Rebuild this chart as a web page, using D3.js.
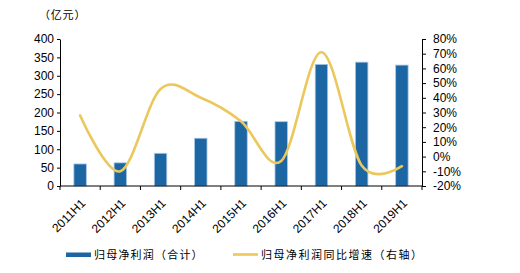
<!DOCTYPE html>
<html>
<head>
<meta charset="utf-8">
<script src="https://cdn.jsdelivr.net/npm/d3@7"></script>
<style>
  body { margin: 0; background: #fff; }
  svg { display: block; }
  .num { font-family: "Liberation Sans", Arial, sans-serif; font-size: 12px; fill: #000; }
  .cjk { font-family: "Noto Sans CJK SC", sans-serif; font-size: 11px; fill: #000; }
</style>
</head>
<body>
<svg id="chart" width="520" height="273"></svg>
<script>
const categories = ["2011H1","2012H1","2013H1","2014H1","2015H1","2016H1","2017H1","2018H1","2019H1"];
const profit = [60, 63, 89, 130, 176, 175, 331, 337, 329];
const growth = [28, -10, 46, 40, 24, -3, 71, -6, -6.5];
const leftTicks = [0, 50, 100, 150, 200, 250, 300, 350, 400];
const rightTicks = [-20, -10, 0, 10, 20, 30, 40, 50, 60, 70, 80];
const unitLabel = "（亿元）";
const seriesNames = ["归母净利润（合计）", "归母净利润同比增速（右轴）"];

const svg = d3.select("#chart");
const x0 = 60, x1 = 422, yTop = 39, yBot = 186;

const x = d3.scaleBand().domain(categories).range([x0, x1]).padding(0);
const yL = d3.scaleLinear().domain([0, 400]).range([yBot, yTop]);
const yR = d3.scaleLinear().domain([-20, 80]).range([yBot, yTop]);

const barW = x.bandwidth() * 0.31;

// bars
svg.append("g").selectAll("rect").data(categories).join("rect")
  .attr("x", (d) => x(d) + x.bandwidth() / 2 - barW / 2)
  .attr("y", (d, i) => yL(profit[i]))
  .attr("width", barW)
  .attr("height", (d, i) => yBot - yL(profit[i]))
  .attr("fill", "#1c66a3")
  .attr("stroke", "#a9c8e6")
  .attr("stroke-width", 0.8);

// line
const line = d3.line()
  .x((d, i) => x(categories[i]) + x.bandwidth() / 2)
  .y((d) => yR(d))
  .curve(d3.curveCatmullRom.alpha(0));
svg.append("path").datum(growth)
  .attr("d", line)
  .attr("fill", "none")
  .attr("stroke", "#ebc75c")
  .attr("stroke-width", 2.6)
  .attr("stroke-linecap", "round");

// left axis
const gL = svg.append("g").attr("transform", `translate(${x0},0)`)
  .call(d3.axisLeft(yL).tickValues(leftTicks).tickSize(3).tickPadding(3).tickSizeOuter(0));
// right axis
const gR = svg.append("g").attr("transform", `translate(${x1},0)`)
  .call(d3.axisRight(yR).tickValues(rightTicks).tickSize(4).tickPadding(7).tickSizeOuter(0)
    .tickFormat((d) => d + "%"));
[gL, gR].forEach((g) => {
  g.select(".domain").attr("stroke", "#000").attr("stroke-width", 1);
  g.selectAll(".tick line").attr("stroke", "#000");
  g.selectAll("text").attr("class", "num").attr("fill", "#000");
});

// bottom axis
const gB = svg.append("g").attr("transform", `translate(0,${yBot})`);
gB.append("line").attr("x1", x0).attr("x2", x1).attr("y1", 0).attr("y2", 0)
  .attr("stroke", "#000");
const bounds = categories.map((c) => x(c)).concat([x1]);
gB.selectAll("line.tk").data(bounds).join("line").attr("class", "tk")
  .attr("x1", (d) => d).attr("x2", (d) => d).attr("y1", 0).attr("y2", 4)
  .attr("stroke", "#000");
gB.selectAll("text").data(categories).join("text")
  .attr("class", "num")
  .attr("font-size", "11.5px")
  .attr("text-anchor", "end")
  .attr("transform", (d) => `translate(${x(d) + x.bandwidth() / 2 + 6},${18}) rotate(-45)`)
  .text((d) => d);

// unit label
svg.append("text").attr("class", "cjk").attr("x", 39).attr("y", 19)
  .attr("font-size", "10.5px").style("letter-spacing", "0.8px").text(unitLabel);

// legend
const lg = svg.append("g");
lg.append("rect").attr("x", 66).attr("y", 252.5).attr("width", 25).attr("height", 4.5).attr("fill", "#1c66a3");
lg.append("text").attr("class", "cjk").attr("x", 94).attr("y", 259).style("letter-spacing", "1.2px").text(seriesNames[0]);
lg.append("line").attr("x1", 233).attr("x2", 258).attr("y1", 254.5).attr("y2", 254.5)
  .attr("stroke", "#ebc75c").attr("stroke-width", 2.6);
lg.append("text").attr("class", "cjk").attr("x", 261).attr("y", 259).style("letter-spacing", "1.5px").text(seriesNames[1]);
</script>
</body>
</html>
